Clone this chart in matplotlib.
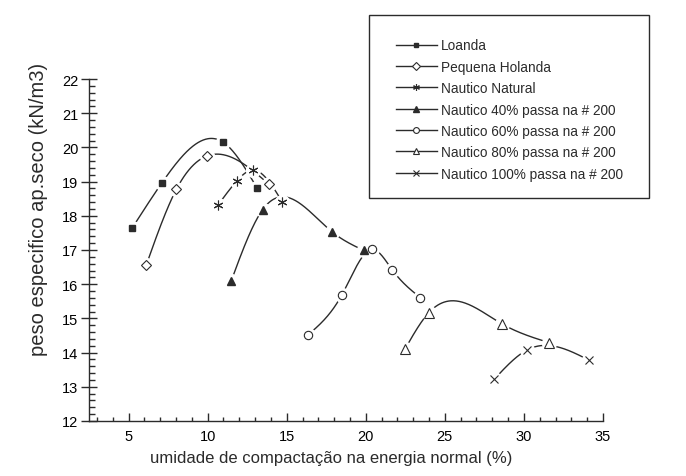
import numpy as np
import matplotlib
matplotlib.use("Agg")
import matplotlib.pyplot as plt
from matplotlib.lines import Line2D
from matplotlib.patches import Rectangle
from matplotlib.ticker import MultipleLocator

plt.rcParams['font.family'] = ['Liberation Sans', 'DejaVu Sans']

# moisture content (%) and dry unit weight (kN/m3)
loanda_x = [5.21, 7.09, 10.99, 13.14]
loanda_y = [17.63, 18.95, 20.15, 18.80]

holanda_x = [6.12, 8.02, 9.96, 13.88]
holanda_y = [16.56, 18.77, 19.75, 18.92]

natural_x = [10.68, 11.85, 12.87, 14.73]
natural_y = [18.33, 19.02, 19.34, 18.40]

n40_x = [11.48, 13.48, 17.87, 19.86]
n40_y = [16.08, 18.18, 17.53, 16.99]

n60_x = [16.33, 18.48, 20.42, 21.69, 23.44]
n60_y = [14.51, 15.68, 17.02, 16.41, 15.61]

n80_x = [22.49, 23.97, 28.61, 31.60]
n80_y = [14.11, 15.16, 14.84, 14.29]

n100_x = [28.12, 30.21, 34.11]
n100_y = [13.22, 14.08, 13.78]

labels = ["Loanda", "Pequena Holanda", "Nautico Natural",
          "Nautico 40% passa na # 200", "Nautico 60% passa na # 200",
          "Nautico 80% passa na # 200", "Nautico 100% passa na # 200"]

ink = '#2b2b2b'


# natural cubic spline, the same kind of line the original program draws
def spline(xs, ys, num=200):
    x = np.asarray(xs, float)
    y = np.asarray(ys, float)
    n = len(x)
    h = np.diff(x)
    d = np.diff(y) / h
    A = np.zeros((n, n))
    b = np.zeros(n)
    A[0, 0] = 1
    A[-1, -1] = 1
    for i in range(1, n - 1):
        A[i, i - 1] = h[i - 1]
        A[i, i] = 2 * (h[i - 1] + h[i])
        A[i, i + 1] = h[i]
        b[i] = 6 * (d[i] - d[i - 1])
    M = np.linalg.solve(A, b)
    xx = np.linspace(x[0], x[-1], num)
    k = np.clip(np.searchsorted(x, xx) - 1, 0, n - 2)
    x0, x1, hk = x[k], x[k + 1], h[k]
    yy = (M[k] * (x1 - xx) ** 3 / (6 * hk) + M[k + 1] * (xx - x0) ** 3 / (6 * hk)
          + (y[k] / hk - M[k] * hk / 6) * (x1 - xx)
          + (y[k + 1] / hk - M[k + 1] * hk / 6) * (xx - x0))
    return xx, yy


series = [
    (loanda_x, loanda_y, dict(marker='s', ms=5, mfc=ink, mec=ink)),
    (holanda_x, holanda_y, dict(marker='D', ms=5.5, mfc='white', mec=ink, mew=0.8)),
    (natural_x, natural_y, dict(marker=(6, 2, 0), ms=7, mec=ink, mew=0.8)),
    (n40_x, n40_y, dict(marker='^', ms=6, mfc=ink, mec=ink)),
    (n60_x, n60_y, dict(marker='o', ms=6, mfc='white', mec=ink, mew=0.8)),
    (n80_x, n80_y, dict(marker='^', ms=6.5, mfc='white', mec=ink, mew=0.8)),
    (n100_x, n100_y, dict(marker='x', ms=6, mec=ink, mew=0.8)),
]

fig = plt.figure(figsize=(6.86, 4.77), dpi=100)
ax = fig.add_axes([89 / 686, 1 - 422 / 477, 514 / 686, 342 / 477])

for xs, ys, mk in series:
    sx, sy = spline(xs, ys)
    ax.plot(sx, sy, color=ink, lw=1.0, zorder=2)
    # white halo leaves a small gap in the line round each marker
    ax.plot(xs, ys, ls='none', marker='o', ms=10, mfc='white', mec='white', zorder=3)
    ax.plot(xs, ys, ls='none', zorder=4, **mk)

ax.set_xlim(2.5, 35)
ax.set_ylim(12, 22)
ax.spines['top'].set_visible(False)
ax.spines['right'].set_visible(False)
for s in ('left', 'bottom'):
    ax.spines[s].set_color(ink)
    ax.spines[s].set_linewidth(1.0)

ax.xaxis.set_major_locator(MultipleLocator(5))
ax.xaxis.set_minor_locator(MultipleLocator(1))
ax.yaxis.set_major_locator(MultipleLocator(1))
ax.yaxis.set_minor_locator(MultipleLocator(0.2))
ax.tick_params(axis='x', which='major', direction='in', length=5.5, width=1, color=ink,
               pad=6, labelsize=10.5)
ax.tick_params(axis='x', which='minor', direction='in', length=3, width=1, color=ink)
ax.tick_params(axis='y', which='major', direction='inout', length=11, width=1, color=ink,
               pad=2, labelsize=10.5)
ax.tick_params(axis='y', which='minor', direction='in', length=4, width=1, color=ink)

fig.text(331 / 686, 1 - 459 / 477, "umidade de compactação na energia normal (%)",
         ha='center', va='center', fontsize=12, color=ink)
fig.text(39 / 686, 1 - 209 / 477, "peso especifico ap.seco (kN/m3)",
         ha='center', va='center', rotation=90, fontsize=14.5, color=ink)

# legend box and entries
fig.add_artist(Rectangle((369 / 686, 1 - 199 / 477), 280 / 686, 183 / 477,
                         transform=fig.transFigure, fill=False, lw=1.0, ec=ink))
handles = [Line2D([], [], color=ink, lw=1.0, **mk) for _, _, mk in series]
ax.legend(handles, labels, loc='upper left', bbox_to_anchor=(396 / 686, 1 - 39.5 / 477),
          bbox_transform=fig.transFigure, frameon=False, borderpad=0, borderaxespad=0,
          handlelength=3.0, handletextpad=0.3, labelspacing=0.54, fontsize=9.8,
          markerscale=0.7, labelcolor=ink)

fig.savefig("out.png", dpi=100, facecolor='white')
